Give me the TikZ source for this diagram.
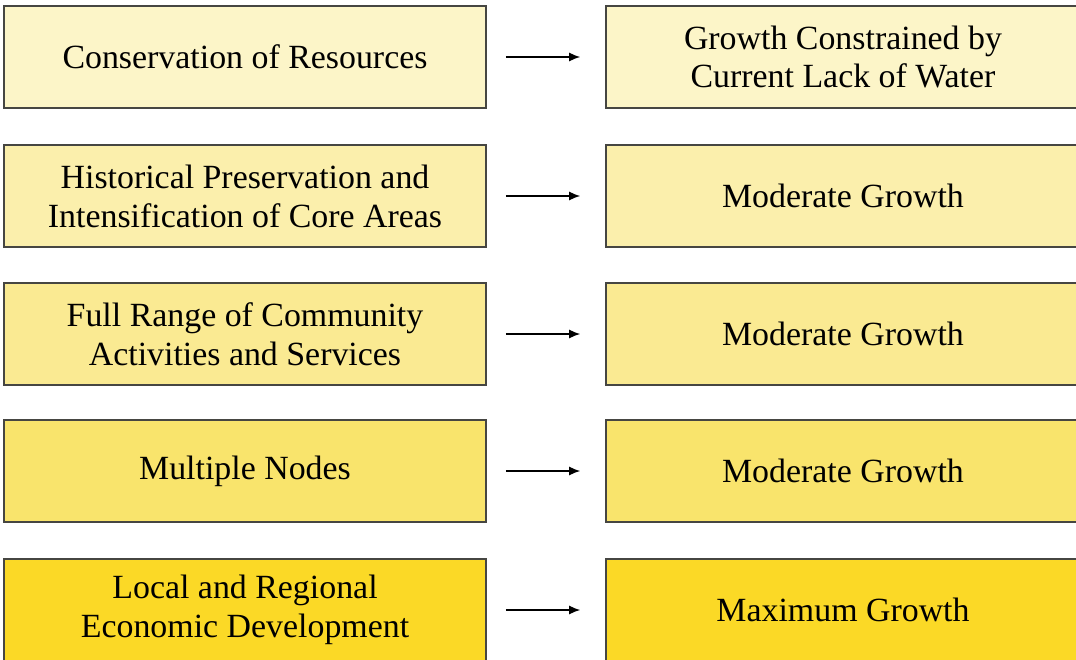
\documentclass[tikz,border=0pt]{standalone}
\usepackage{fontspec}
\setmainfont{Liberation Serif}
\usetikzlibrary{positioning,arrows.meta}

\definecolor{tone1}{RGB}{252,245,200}
\definecolor{tone2}{RGB}{251,239,172}
\definecolor{tone3}{RGB}{250,234,146}
\definecolor{tone4}{RGB}{249,228,108}
\definecolor{tone5}{RGB}{251,217,38}
\definecolor{edge}{RGB}{70,70,66}

\tikzset{
  goal/.style={draw=edge, line width=1.6bp, minimum width=482bp, minimum height=102bp,
    align=center, inner sep=0pt, font=\fontsize{34}{39}\selectfont},
  result/.style={goal, minimum width=474bp},
  flow/.style={-{Latex[length=11bp,width=9bp]}, line width=1.4bp, shorten <=19bp, shorten >=25bp}
}

\begin{document}
\begin{tikzpicture}[x=1bp, y=-1bp]
      \useasboundingbox (0,0) rectangle (1076,660);
      \clip (0,0) rectangle (1076,660);
      % policy boxes on the left
      \node[goal, fill=tone1] (p1) at (245,57) {Conservation of Resources};
      \node[goal, fill=tone2] (p2) at (245,196) {Historical Preservation and\\Intensification of Core Areas};
      \node[goal, fill=tone3] (p3) at (245,334) {Full Range of Community\\Activities and Services};
      \node[goal, fill=tone4] (p4) at (245,471) {Multiple Nodes};
      \node[goal, fill=tone5] (p5) at (245,610) {Local and Regional\\Economic Development};
      % growth outcomes on the right
      \node[result, fill=tone1] (g1) at (843,57) {Growth Constrained by\\Current Lack of Water};
      \node[result, fill=tone2] (g2) at (843,196) {Moderate Growth};
      \node[result, fill=tone3] (g3) at (843,334) {Moderate Growth};
      \node[result, fill=tone4] (g4) at (843,471) {Moderate Growth};
      \node[result, fill=tone5] (g5) at (843,610) {Maximum Growth};
      \begin{scope}[flow]
        \draw (p1) to (g1);
        \draw (p2) to (g2);
        \draw (p3) to (g3);
        \draw (p4) to (g4);
        \draw (p5) to (g5);
      \end{scope}
    \end{tikzpicture}
\end{document}
